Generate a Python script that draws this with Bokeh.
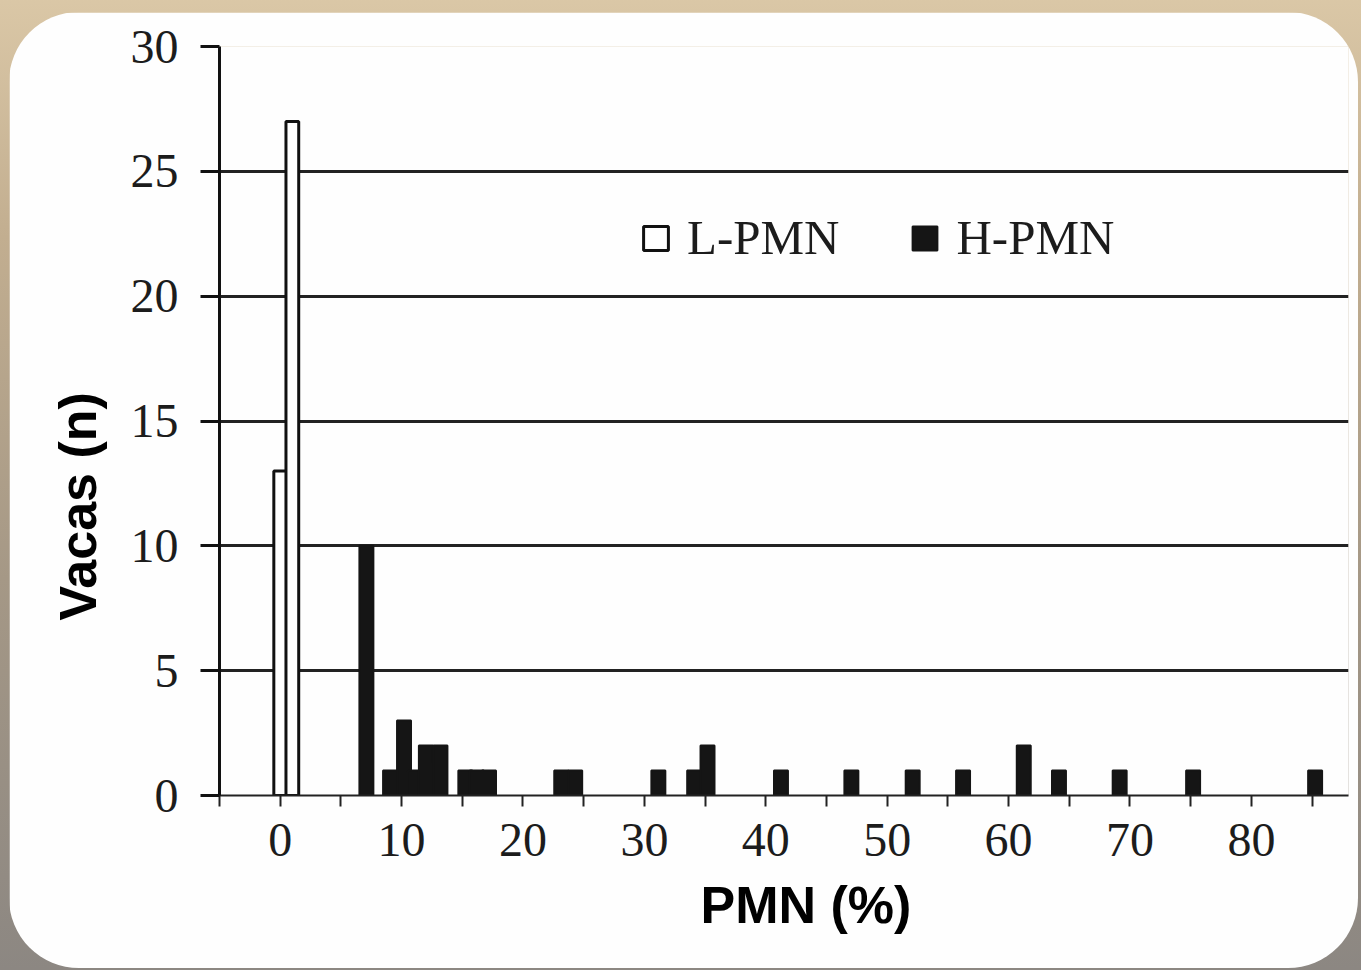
from bokeh.plotting import figure
from bokeh.models import FixedTicker, Legend, Range1d, Title
from bokeh.layouts import column
from bokeh.embed import file_html
from bokeh.resources import INLINE

# ---- data ----
l_pmn_x = [0, 1]
l_pmn_n = [13, 27]

h_pmn_x = [7.1, 9.05, 10.2, 11.1, 12.0, 13.2, 15.25, 16.2, 17.2, 23.15, 24.3,
           31.15, 34.1, 35.2, 41.25, 47.05, 52.1, 56.25, 61.25, 64.15, 69.15, 75.2, 85.25]
h_pmn_n = [10, 1, 3, 1, 2, 2, 1, 1, 1, 1, 1,
           1, 1, 2, 1, 1, 1, 1, 2, 1, 1, 1, 1]

y_ticks = [0, 5, 10, 15, 20, 25, 30]
x_ticks = list(range(-5, 90, 5))
x_labels = {t: (str(t) if (t % 10 == 0 and t >= 0) else "") for t in x_ticks}

series_names = ["L-PMN", "H-PMN"]
x_title = "PMN (%)"
y_title = "Vacas (n)"

# ---- figure ----
p = figure(width=1349, height=956, x_range=Range1d(-5, 88), y_range=Range1d(0, 30),
           output_backend="svg", toolbar_location=None,
           min_border_left=210, min_border_right=10, min_border_top=34, min_border_bottom=173)
p.margin = (20, 0, 0, 17)
p.styles = {"border-radius": "70px", "overflow": "hidden"}
p.background_fill_color = "#fefefe"
p.border_fill_color = "#fefefe"
p.outline_line_color = None

p.xgrid.visible = False
p.ygrid.ticker = FixedTicker(ticks=y_ticks)
p.ygrid.grid_line_color = "#222222"
p.ygrid.grid_line_width = 3

serif = "Liberation Serif"

ya = p.yaxis[0]
ya.ticker = FixedTicker(ticks=y_ticks)
ya.axis_line_width = 3
ya.axis_line_color = "#111111"
ya.major_tick_out = 19
ya.major_tick_in = 0
ya.major_tick_line_width = 3
ya.major_tick_line_color = "#111111"
ya.minor_tick_out = 0
ya.minor_tick_in = 0
ya.major_label_text_font = serif
ya.major_label_text_font_size = "48px"
ya.major_label_text_color = "#1c1c1c"
ya.major_label_standoff = 22

xa = p.xaxis[0]
xa.ticker = FixedTicker(ticks=x_ticks)
xa.major_label_overrides = x_labels
xa.axis_line_width = 2
xa.axis_line_color = "#222222"
xa.major_tick_out = 11
xa.major_tick_in = 0
xa.major_tick_line_width = 2
xa.major_tick_line_color = "#222222"
xa.minor_tick_out = 0
xa.minor_tick_in = 0
xa.major_label_text_font = serif
xa.major_label_text_font_size = "48px"
xa.major_label_text_color = "#1c1c1c"
xa.major_label_standoff = 17

# ---- bars ----
r_l = p.vbar(x=l_pmn_x, top=l_pmn_n, width=1.05, fill_color="white",
             line_color="#111111", line_width=3)
r_h = p.vbar(x=h_pmn_x, top=h_pmn_n, width=1.15, fill_color="#151515",
             line_color="#151515", line_width=2)

legend = Legend(items=[(series_names[0], [r_l]), (series_names[1], [r_h])],
                orientation="horizontal", location=(421, 529),
                glyph_width=31, glyph_height=30, label_standoff=16, spacing=70,
                padding=0, margin=0, border_line_color=None, background_fill_alpha=0,
                label_text_font=serif, label_text_font_size="49px",
                label_text_color="#1c1c1c")
p.add_layout(legend)

p.add_layout(Title(text=y_title, align="left", offset=175, standoff=41,
                   text_font="Liberation Sans", text_font_style="bold",
                   text_font_size="52px", text_color="black"), "left")
p.add_layout(Title(text=x_title, align="left", offset=481, standoff=30,
                   text_font="Liberation Sans", text_font_style="bold",
                   text_font_size="52px", text_color="black"), "below")

grad = "linear-gradient(180deg, #dbc8a7 0%, #c2ae90 25%, #a59886 60%, #8c8782 100%)"
outer = column(p, width=1369, height=978, styles={"background": grad, "margin": "-8px"})

open("out.html", "w").write(file_html(outer, INLINE))
